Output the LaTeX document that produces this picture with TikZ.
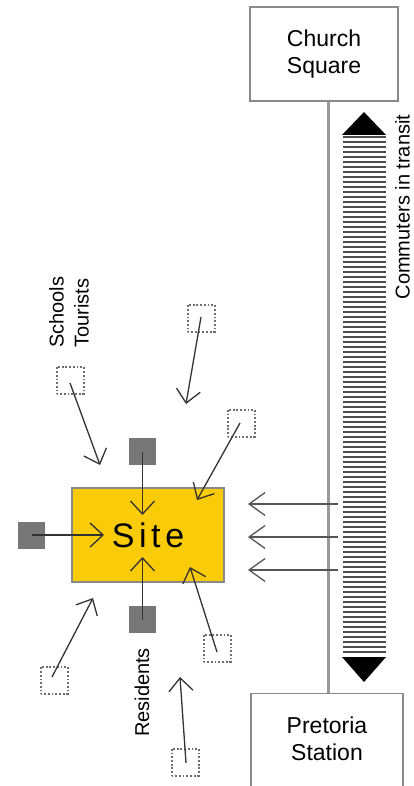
\documentclass[tikz,border=0pt]{standalone}
\usepackage{fontspec}
\setmainfont{Liberation Sans}
\usetikzlibrary{arrows.meta}
\definecolor{siteyellow}{HTML}{FACB08}
\definecolor{boxgray}{HTML}{8A8A8A}
\definecolor{squaregray}{HTML}{777777}
\definecolor{dotgray}{HTML}{6E6E6E}
\definecolor{arrowdark}{HTML}{333333}
\definecolor{arrowmid}{HTML}{555555}
\definecolor{railgray}{HTML}{999999}
\tikzset{
  placebox/.style={draw=boxgray, line width=1.3pt, fill=white, rectangle, inner sep=0pt},
  sitebox/.style={draw=boxgray, line width=1.3pt, fill=siteyellow, rectangle, minimum width=152pt, minimum height=94pt, inner sep=0pt},
  graysq/.style={fill=squaregray, draw=none, rectangle, minimum size=27pt, inner sep=0pt},
  dotsq/.style={draw=dotgray, line width=2pt, dash pattern=on 1.8pt off 1.9pt, rectangle, minimum size=27pt, inner sep=0pt},
  flow/.style={draw=arrowdark, line width=1.3pt, -{Straight Barb[length=13pt,width=24pt,line width=1.3pt]}},
  outflow/.style={draw=arrowmid, line width=1.3pt, -{Straight Barb[length=16pt,width=23pt,line width=1.3pt]}},
  rail/.style={draw=railgray, line width=3pt},
  stripe/.style={draw=black!70, line width=1.2pt},
  lbl/.style={font=\fontsize{20}{25}\selectfont, inner sep=0pt, rotate=90},
  boxtext/.style={font=\fontsize{23}{27}\selectfont, align=center, inner sep=0pt}
}
\begin{document}
\begin{tikzpicture}[x=1pt,y=-1pt]
\useasboundingbox (0,0) rectangle (413,786);
\clip (0,0) rectangle (413,786);
% places
\node[placebox, minimum width=148pt, minimum height=94pt] (church) at (324,54) {};
\node[boxtext] (churchtxt) at (324,54) {Church\\Square};
\node[placebox, minimum width=152pt, minimum height=120pt, anchor=north] (pretoria) at (327,693) {};
\node[boxtext] (pretoriatxt) at (327,739) {Pretoria\\Station};
\coordinate (lx) at (328,0);
\draw[rail] (church.south -| lx) -- (pretoria.north -| lx);
% commuter stream
\foreach \i in {0,...,103} {
  \draw[stripe] (343,137+5*\i) -- (386,137+5*\i);
}
\fill[black] (342,135) -- (386,135) -- (364,112) -- cycle;
\fill[black] (342,657) -- (386,657) -- (364,682) -- cycle;
\node[lbl] (commuters) at (402.5,207) {Commuters in transit};
% arrows out of stream
\foreach \y/\n in {504/a,537/b,570/c} {
  \coordinate (os\n) at (338,\y);
  \coordinate (oe\n) at (248,\y);
  \draw[outflow] (os\n) -- (oe\n);
}
% site
\node[sitebox] (site) at (148,535) {};
\node[font=\fontsize{34}{40}\selectfont, inner sep=0pt] (sitetxt) at (148,535) {S\kern4.6pt i\kern4.6pt t\kern4.6pt e};
% gray squares
\node[graysq] (gtop) at (142.5,451.5) {};
\node[graysq] (gleft) at (31.5,535) {};
\node[graysq] (gbot) at (142.5,619.5) {};
\coordinate (ttop) at (142.5,515);
\coordinate (tleft) at (104,535);
\coordinate (tbot) at (142.5,557);
\draw[flow] (gtop.center) -- (ttop);
\draw[flow] (gleft.center) -- (tleft);
\draw[flow] (gbot.center) -- (tbot);
% dotted squares
\node[dotsq] (d1) at (70,380.5) {};
\node[dotsq] (d2) at (201,318.5) {};
\node[dotsq] (d3) at (241,423) {};
\node[dotsq] (d4) at (54,680.5) {};
\node[dotsq] (d5) at (217,648.5) {};
\node[dotsq] (d6) at (185,762) {};
\coordinate (t1) at (100,465);
\coordinate (t2) at (186,404);
\coordinate (t3) at (197,500);
\coordinate (t4) at (93,598);
\coordinate (t5) at (190,567);
\coordinate (t6) at (180,677);
\draw[flow] (70,383) -- (t1);
\draw[flow] (201,317) -- (t2);
\draw[flow] (240,423) -- (t3);
\draw[flow] (52,677) -- (t4);
\draw[flow] (217,652) -- (t5);
\draw[flow] (186,763) -- (t6);
% labels
\node[lbl, align=left, anchor=west] (schools) at (69,348) {Schools\\Tourists};
\node[lbl] (residents) at (142,692.5) {Residents};
\end{tikzpicture}
\end{document}
